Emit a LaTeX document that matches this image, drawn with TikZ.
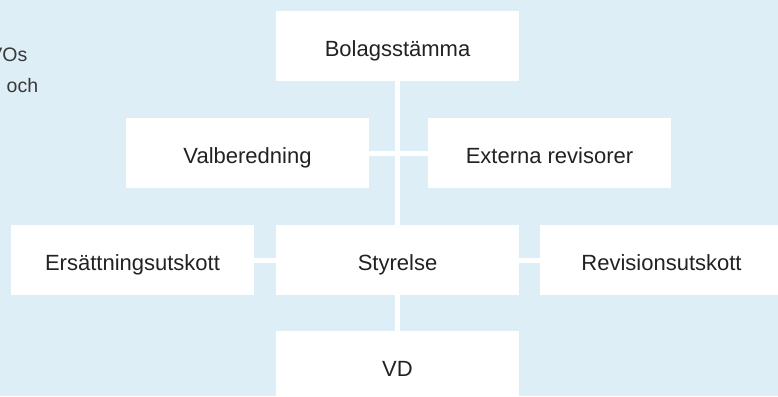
\documentclass[tikz,border=0pt]{standalone}
\usepackage{fontspec}
\setmainfont{Liberation Sans}
\usepackage{tikz}
\definecolor{bgblue}{RGB}{222,238,246}
\definecolor{ink}{RGB}{34,34,34}

\begin{document}
\begin{tikzpicture}[
x=1pt,y=-1pt,
font=\fontsize{22}{26}\selectfont,
box/.style={rectangle,fill=white,text=ink,inner sep=0pt,minimum width=243pt,
  minimum height=70pt,text height=21pt,text depth=0pt},
link/.style={draw=white,line width=5pt},
side/.style={inner sep=0pt,text=ink!90,font=\fontsize{19.5}{30}\selectfont}
]
\useasboundingbox (0,0) rectangle (778,396);
\clip (0,0) rectangle (778,396);
\fill[bgblue] (0,0) rectangle (778,396);

% cut-off text at the left edge
\node[side,anchor=base east] (txta) at (27.5,62) {VOs};
\node[side,anchor=base west] (txtb) at (6.5,92) {och};

\node[box] (stamma) at (397.5,46) {Bolagsstämma};
\node[box] (valb) at (247.5,153) {Valberedning};
\node[box] (extrev) at (549.5,153) {Externa revisorer};
\node[box] (ersutsk) at (132.5,260) {Ersättningsutskott};
\node[box] (styr) at (397.5,260) {Styrelse};
\node[box] (revutsk) at (661.5,260) {Revisionsutskott};
\node[box] (vd) at (397.5,366) {VD};

\draw[link] (stamma) -- (styr);
\draw[link] (valb) -- (extrev);
\draw[link] (ersutsk) -- (styr);
\draw[link] (styr) -- (revutsk);
\draw[link] (styr) -- (vd);
\end{tikzpicture}
\end{document}
